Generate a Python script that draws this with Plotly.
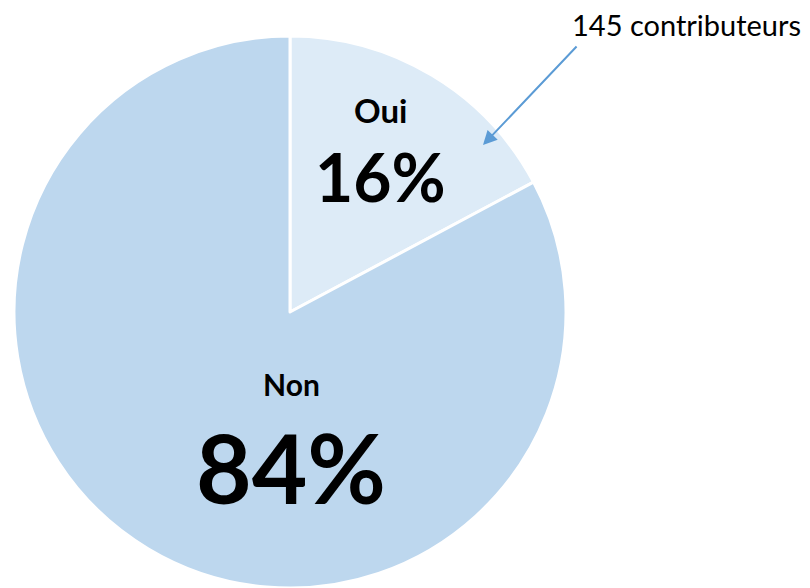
import plotly.graph_objects as go

categories = ["Oui", "Non"]
counts = [145, 698]
pct_labels = ["16%", "84%"]
colors = ["#DDEBF7", "#BDD7EE"]
note_text = "145 contributeurs"

OFF = 8  # page body margin
W, H = 810 - OFF, 588 - OFF
cx, cy, r = 290 - OFF, 312 - OFF, 276

fig = go.Figure(go.Pie(
    labels=categories,
    values=counts,
    sort=False,
    direction="clockwise",
    rotation=0,
    textinfo="none",
    hoverinfo="label+percent",
    marker=dict(colors=colors, line=dict(color="white", width=3)),
    domain=dict(x=[(cx - r) / W, (cx + r) / W], y=[max(0, (H - cy - r) / H), (H - cy + r) / H]),
    showlegend=False,
))

font = "Lato"

def px(x, y):
    return (x - OFF) / W, 1 - (y - OFF) / H

anns = []
def label(text, x, y, size):
    xx, yy = px(x, y)
    anns.append(dict(text=f"<b>{text}</b>", x=xx, y=yy, xref="paper", yref="paper",
                     xanchor="center", yanchor="middle", showarrow=False,
                     font=dict(family=font, size=size, color="black")))

label(categories[0], 380, 110, 33)
label(pct_labels[0], 380, 176, 66)
label(categories[1], 291, 384, 30)
label(pct_labels[1], 291, 466, 96)

xx, yy = px(686, 24)
anns.append(dict(text=note_text, x=xx, y=yy, xref="paper", yref="paper",
                 xanchor="center", yanchor="middle", showarrow=False,
                 font=dict(family=font, size=29, color="black")))

hx, hy = px(483, 145)
anns.append(dict(text="", x=hx, y=hy, xref="paper", yref="paper",
                 ax=95, ay=-100, showarrow=True, arrowhead=2, arrowsize=1.4,
                 arrowwidth=2, arrowcolor="#5B9BD5", standoff=0))

fig.update_layout(width=W, height=H, margin=dict(l=0, r=0, t=0, b=0),
                  paper_bgcolor="white", plot_bgcolor="white", annotations=anns)

fig.write_html("out.html")
